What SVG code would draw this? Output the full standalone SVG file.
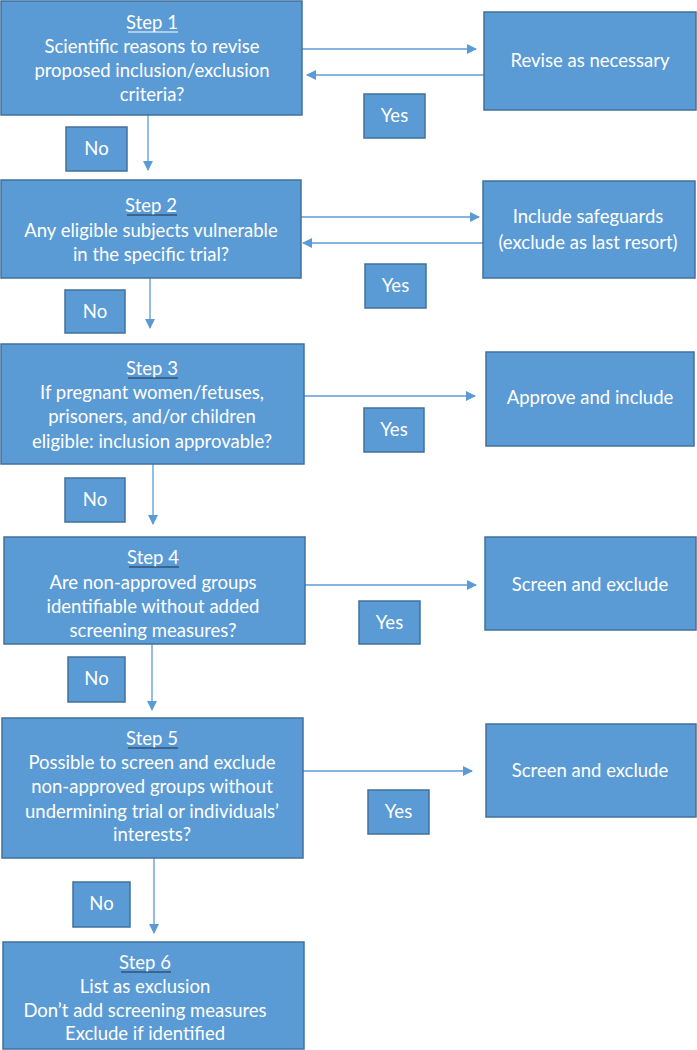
<svg xmlns="http://www.w3.org/2000/svg" width="697" height="1050" viewBox="0 0 697 1050">
<style>
.box{fill:#5B9BD5;stroke:#41719C;stroke-width:1.5}
.t{font-family:Lato,"Open Sans","Liberation Sans",sans-serif;font-size:18.5px;fill:#fff;text-anchor:middle}
.c{stroke:#5B9BD5;stroke-width:1.3;fill:none}
.ul{stroke:#fff;stroke-width:1}
.uld{stroke:#1F2F4F;stroke-width:1.2}
</style>
<defs>
<marker id="ah" markerWidth="10" markerHeight="10" refX="9" refY="5" orient="auto" markerUnits="userSpaceOnUse">
<path d="M0,0 L10,5 L0,10 Z" fill="#5B9BD5"/>
</marker>
</defs>
<rect width="697" height="1050" fill="#fff"/>
<g id="connectors">
<line class="c" x1="302" y1="49" x2="476" y2="49" marker-end="url(#ah)"/>
<line class="c" x1="484" y1="75" x2="307" y2="75" marker-end="url(#ah)"/>
<line class="c" x1="148" y1="115" x2="148" y2="170" marker-end="url(#ah)"/>
<line class="c" x1="301" y1="217" x2="479" y2="217" marker-end="url(#ah)"/>
<line class="c" x1="483" y1="243" x2="303" y2="243" marker-end="url(#ah)"/>
<line class="c" x1="150" y1="278" x2="150" y2="328" marker-end="url(#ah)"/>
<line class="c" x1="304" y1="396" x2="475" y2="396" marker-end="url(#ah)"/>
<line class="c" x1="153" y1="464" x2="153" y2="524" marker-end="url(#ah)"/>
<line class="c" x1="305" y1="585" x2="476" y2="585" marker-end="url(#ah)"/>
<line class="c" x1="152" y1="644" x2="152" y2="710" marker-end="url(#ah)"/>
<line class="c" x1="303" y1="771" x2="472" y2="771" marker-end="url(#ah)"/>
<line class="c" x1="154" y1="858" x2="154" y2="933" marker-end="url(#ah)"/>
</g>
<g id="step1">
<rect class="box" x="1" y="1" width="301" height="114"/>
<text class="t" x="152" y="29">Step 1</text>
<line class="ul" x1="128" y1="32" x2="178" y2="32"/>
<text class="t" x="152" y="53">Scientific reasons to revise</text>
<text class="t" x="152" y="77">proposed inclusion/exclusion</text>
<text class="t" x="152" y="101">criteria?</text>
</g>
<g id="revise">
<rect class="box" x="484" y="12" width="212" height="98"/>
<text class="t" x="590" y="67">Revise as necessary</text>
</g>
<g id="yes1">
<rect class="box" x="364" y="94" width="61" height="44"/>
<text class="t" x="394.5" y="122">Yes</text>
</g>
<g id="no1">
<rect class="box" x="66" y="127" width="61" height="44"/>
<text class="t" x="96.5" y="155">No</text>
</g>
<g id="step2">
<rect class="box" x="1" y="180" width="300" height="98"/>
<text class="t" x="151" y="212">Step 2</text>
<line class="uld" x1="127" y1="215" x2="177" y2="215"/>
<text class="t" x="151" y="237">Any eligible subjects vulnerable</text>
<text class="t" x="151" y="261">in the specific trial?</text>
</g>
<g id="safeguards">
<rect class="box" x="483" y="181" width="212" height="97"/>
<text class="t" x="588" y="223">Include safeguards</text>
<text class="t" x="588" y="249">(exclude as last resort)</text>
</g>
<g id="yes2">
<rect class="box" x="365" y="264" width="61" height="44"/>
<text class="t" x="395.5" y="292">Yes</text>
</g>
<g id="no2">
<rect class="box" x="65" y="290" width="60" height="43"/>
<text class="t" x="95" y="318">No</text>
</g>
<g id="step3">
<rect class="box" x="1" y="344" width="303" height="120"/>
<text class="t" x="152" y="375">Step 3</text>
<line class="uld" x1="128" y1="378" x2="178" y2="378"/>
<text class="t" x="152" y="399">If pregnant women/fetuses,</text>
<text class="t" x="152" y="423">prisoners, and/or children</text>
<text class="t" x="152" y="448">eligible: inclusion approvable?</text>
</g>
<g id="approve">
<rect class="box" x="486" y="352" width="208" height="94"/>
<text class="t" x="590" y="404">Approve and include</text>
</g>
<g id="yes3">
<rect class="box" x="364" y="408" width="60" height="44"/>
<text class="t" x="394" y="436">Yes</text>
</g>
<g id="no3">
<rect class="box" x="65" y="478" width="60" height="44"/>
<text class="t" x="95" y="506">No</text>
</g>
<g id="step4">
<rect class="box" x="4" y="537" width="301" height="107"/>
<text class="t" x="153" y="564">Step 4</text>
<line class="uld" x1="129" y1="567" x2="179" y2="567"/>
<text class="t" x="153" y="589">Are non-approved groups</text>
<text class="t" x="153" y="613">identifiable without added</text>
<text class="t" x="153" y="637">screening measures?</text>
</g>
<g id="screen1">
<rect class="box" x="485" y="537" width="211" height="93"/>
<text class="t" x="590" y="591">Screen and exclude</text>
</g>
<g id="yes4">
<rect class="box" x="359" y="601" width="61" height="43"/>
<text class="t" x="389.5" y="629">Yes</text>
</g>
<g id="no4">
<rect class="box" x="68" y="657" width="57" height="45"/>
<text class="t" x="96.5" y="685">No</text>
</g>
<g id="step5">
<rect class="box" x="2" y="718" width="301" height="140"/>
<text class="t" x="152" y="745">Step 5</text>
<line class="uld" x1="128" y1="748" x2="178" y2="748"/>
<text class="t" x="152" y="769">Possible to screen and exclude</text>
<text class="t" x="152" y="793">non-approved groups without</text>
<text class="t" x="152" y="818">undermining trial or individuals’</text>
<text class="t" x="152" y="841">interests?</text>
</g>
<g id="screen2">
<rect class="box" x="486" y="724" width="210" height="93"/>
<text class="t" x="590" y="777">Screen and exclude</text>
</g>
<g id="yes5">
<rect class="box" x="368" y="790" width="61" height="44"/>
<text class="t" x="398.5" y="818">Yes</text>
</g>
<g id="no5">
<rect class="box" x="73" y="882" width="57" height="45"/>
<text class="t" x="101.5" y="910">No</text>
</g>
<g id="step6">
<rect class="box" x="3" y="942" width="301" height="107"/>
<text class="t" x="145" y="969">Step 6</text>
<line class="uld" x1="121" y1="972" x2="171" y2="972"/>
<text class="t" x="145" y="993">List as exclusion</text>
<text class="t" x="145" y="1017">Don’t add screening measures</text>
<text class="t" x="145" y="1040">Exclude if identified</text>
</g>
</svg>
